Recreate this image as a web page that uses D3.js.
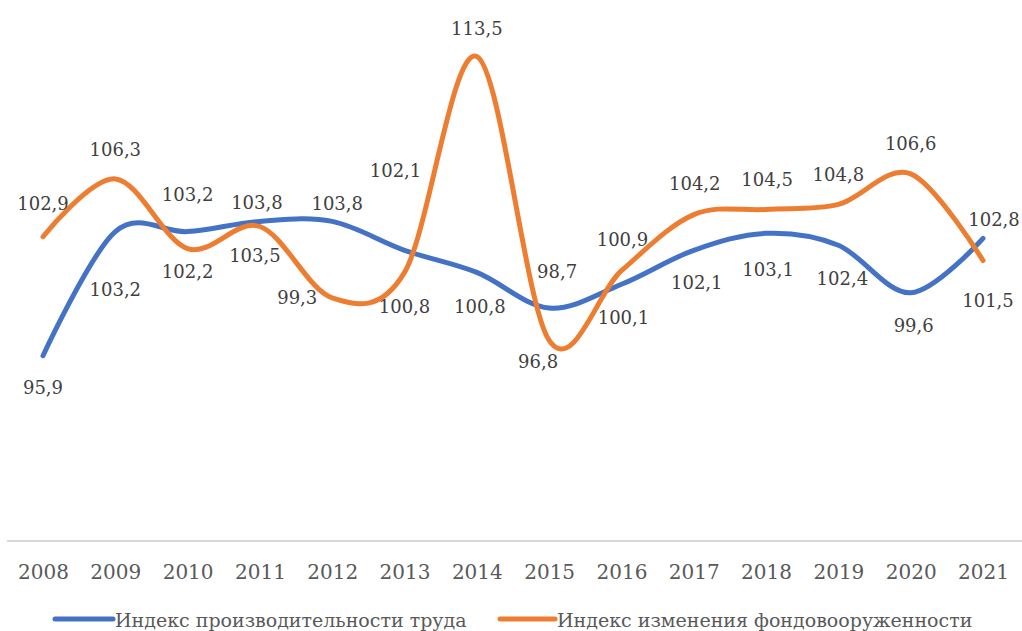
<!DOCTYPE html>
<html><head><meta charset="utf-8">
<script src="https://cdn.jsdelivr.net/npm/d3@7"></script>
<style>
body{margin:0;background:#fff}svg{display:block}
</style>
</head><body>
<svg id="c" width="1022" height="631"></svg>
<script>
const years = ["2008","2009","2010","2011","2012","2013","2014","2015","2016","2017","2018","2019","2020","2021"];
const productivity = [95.9,103.2,103.2,103.8,103.8,102.1,100.8,98.7,100.1,102.1,103.1,102.4,99.6,102.8];
const capitalRatio = [102.9,106.3,102.2,103.5,99.3,100.8,113.5,96.8,100.9,104.2,104.5,104.8,106.6,101.5];
const seriesNames = ["Индекс производительности труда","Индекс изменения фондовооруженности"];

// label offsets (px) relative to each point
const prodOffsets = [[0,32],[0,58],[0,-37],[-3,-19],[5,-18],[-9,-80],[3,34],[8,-37],[2,33],[3,32],[2,36],[4,33],[3,33],[11,-19]];
const capOffsets = [[0,-33],[0,-29],[0,23],[-5,29],[-35,0],[0,34],[0,-28],[-11,21],[1,-31],[1,-31],[1,-30],[0,-30],[0,-30],[5,40]];

const FONT = "DejaVu Serif";
const svg = d3.select("#c");
const x = d3.scalePoint().domain(years).range([43, 983]);
const y = d3.scaleLinear().domain([85, 115]).range([541, 31]);
const colors = ["#4472C4", "#ED7D31"];

svg.append("line").attr("x1", 7).attr("x2", 1022).attr("y1", y(85)).attr("y2", y(85))
  .attr("stroke", "#d9d9d9").attr("stroke-width", 2);

const xAxis = d3.axisBottom(x).tickSize(0).tickPadding(0);
const gx = svg.append("g").attr("transform", `translate(0,${y(85)})`).call(xAxis);
gx.attr("font-family", FONT).attr("font-size", 20);
gx.select(".domain").remove();
gx.selectAll("text").attr("dy", null).attr("y", 38).attr("fill", "#595959");

const line = d3.line().x((d, i) => x(years[i])).y(d => y(d)).curve(d3.curveCardinal.tension(0));

const all = [productivity, capitalRatio];
const offs = [prodOffsets, capOffsets];
all.forEach((vals, s) => {
  svg.append("path").datum(vals).attr("d", line).attr("fill", "none")
    .attr("stroke", colors[s]).attr("stroke-width", 5).attr("stroke-linecap", "round").attr("stroke-linejoin", "round");
});
all.forEach((vals, s) => {
  svg.append("g").attr("font-family", FONT).attr("font-size", 18).selectAll("text").data(vals).join("text")
    .attr("x", (d, i) => x(years[i]) + offs[s][i][0])
    .attr("y", (d, i) => y(d) + offs[s][i][1])
    .attr("dy", "0.36em")
    .attr("text-anchor", "middle")
    .attr("fill", "#404040")
    .text(d => d.toFixed(1).replace(".", ","));
});

// legend
const legend = [[55, 113], [500, 555]];
legend.forEach((p, s) => {
  svg.append("line").attr("x1", p[0]).attr("x2", p[1]).attr("y1", 619).attr("y2", 619)
    .attr("stroke", colors[s]).attr("stroke-width", 5).attr("stroke-linecap", "round");
  svg.append("text").attr("x", p[1] + 2).attr("y", 627)
    .attr("font-family", FONT)
    .attr("font-size", 19).attr("fill", "#595959").text(seriesNames[s]);
});
</script>
</body></html>
